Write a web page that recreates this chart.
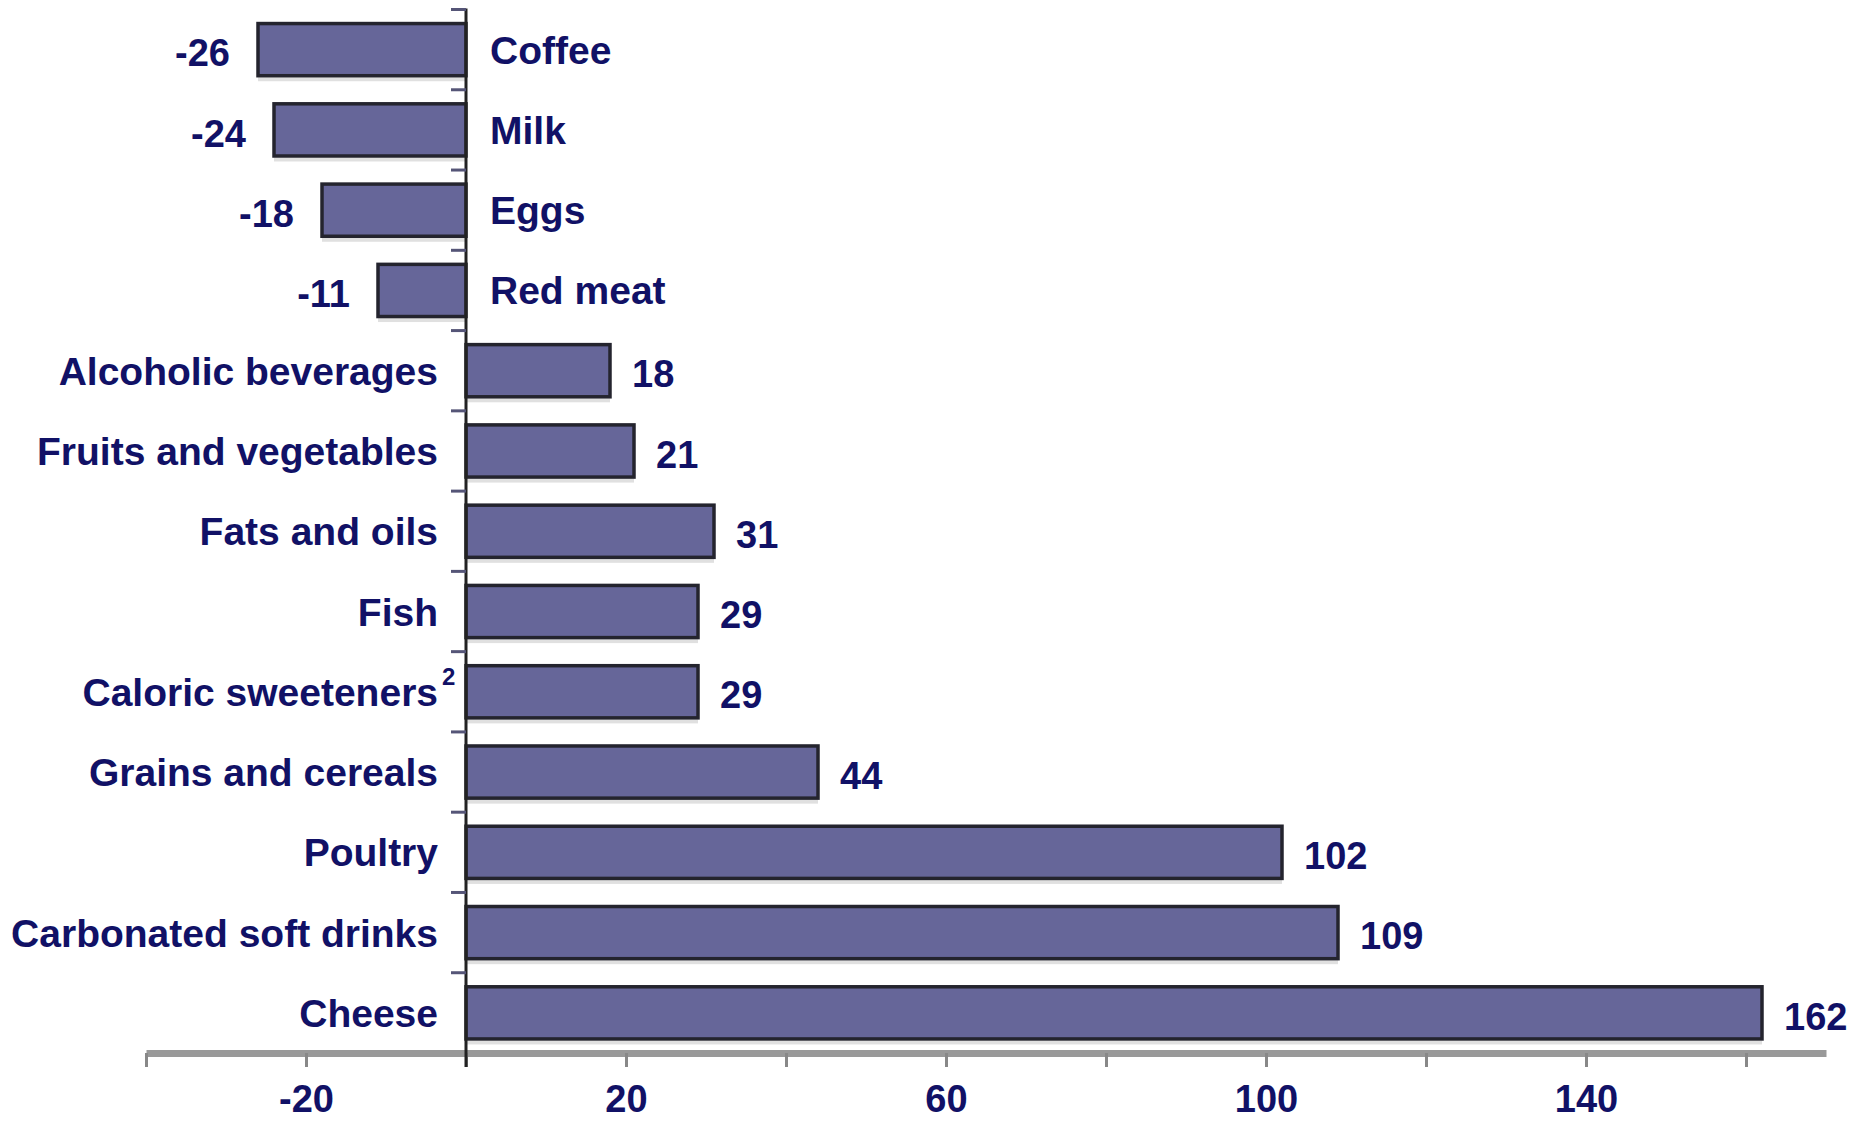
<!DOCTYPE html>
<html>
<head>
<meta charset="utf-8">
<script src="https://cdn.jsdelivr.net/npm/d3@7"></script>
<style>
  body { margin: 0; background: #fff; }
  text {
    font-family: "Liberation Sans", Arial, sans-serif;
    font-weight: bold;
    fill: #111166;
  }
</style>
</head>
<body>
<div id="wrapper"></div>
<script>
// percent change in per capita consumption
const categories = [
  "Coffee",
  "Milk",
  "Eggs",
  "Red meat",
  "Alcoholic beverages",
  "Fruits and vegetables",
  "Fats and oils",
  "Fish",
  "Caloric sweeteners",
  "Grains and cereals",
  "Poultry",
  "Carbonated soft drinks",
  "Cheese",
];
const changes = [-26, -24, -18, -11, 18, 21, 31, 29, 29, 44, 102, 109, 162];
const xTicks = [-40, -20, 0, 20, 40, 60, 80, 100, 120, 140, 160];
const xTickLabels = [-20, 20, 60, 100, 140];
const footnotes = [{ category: "Caloric sweeteners", mark: "2" }];

async function drawBars() {
  // 1. Access data

  const dataset = categories.map((c, i) => ({ category: c, value: changes[i] }));

  const yAccessor = (d) => d.category;
  const xAccessor = (d) => d.value;

  // 2. Create chart dimensions

  let dimensions = {
    width: 1849,
    height: 1123,
    margin: {
      top: 9.5,
      right: 23,
      bottom: 70,
      left: 146,
    },
  };
  dimensions.boundedWidth =
    dimensions.width - dimensions.margin.left - dimensions.margin.right;
  dimensions.boundedHeight =
    dimensions.height - dimensions.margin.top - dimensions.margin.bottom;

  // 3. Draw canvas

  const wrapper = d3
    .select("#wrapper")
    .append("svg")
    .attr("width", dimensions.width)
    .attr("height", dimensions.height);

  const bounds = wrapper
    .append("g")
    .style(
      "transform",
      `translate(${dimensions.margin.left}px, ${dimensions.margin.top}px)`
    );

  // 4. Create scales

  const xScale = d3
    .scaleLinear()
    .domain([-40, 170])
    .range([0, dimensions.boundedWidth]);

  const yScale = d3
    .scaleBand()
    .domain(categories)
    .range([0, dimensions.boundedHeight])
    .paddingInner(0.35)
    .paddingOuter(0.175);

  const x0 = xScale(0);
  const bw = yScale.bandwidth();

  // 5. Draw data

  // light shadow under each bar
  bounds
    .selectAll(".shadow")
    .data(dataset)
    .join("rect")
    .attr("class", "shadow")
    .attr("x", (d) => Math.min(xScale(xAccessor(d)), x0))
    .attr("y", (d) => yScale(yAccessor(d)) + bw + 1.5)
    .attr("width", (d) => Math.abs(xScale(xAccessor(d)) - x0))
    .attr("height", 4)
    .attr("fill", "#e0e0e0");

  bounds
    .selectAll(".bar")
    .data(dataset)
    .join("rect")
    .attr("class", "bar")
    .attr("x", (d) => Math.min(xScale(xAccessor(d)), x0))
    .attr("y", (d) => yScale(yAccessor(d)))
    .attr("width", (d) => Math.abs(xScale(xAccessor(d)) - x0))
    .attr("height", bw)
    .attr("fill", "#666699")
    .attr("stroke", "#24242e")
    .attr("stroke-width", 3.5);

  // 6. Draw peripherals

  const xAxisGenerator = d3
    .axisBottom(xScale)
    .tickValues(xTicks)
    .tickSize(14)
    .tickSizeOuter(0)
    .tickFormat((d) => (xTickLabels.includes(d) ? d : ""));

  const xAxis = bounds
    .append("g")
    .call(xAxisGenerator)
    .style("transform", `translateY(${dimensions.boundedHeight}px)`);

  xAxis.select(".domain").attr("stroke", "#999").attr("stroke-width", 7);
  xAxis.selectAll(".tick line").attr("stroke", "#888").attr("stroke-width", 3);
  xAxis
    .selectAll(".tick text")
    .attr("y", 59)
    .attr("dy", 0)
    .style("font-size", "38px")
    .attr("fill", null);
  xAxis.attr("font-family", null).attr("font-size", null);

  // zero line
  bounds
    .append("line")
    .attr("x1", x0)
    .attr("x2", x0)
    .attr("y1", -1)
    .attr("y2", dimensions.boundedHeight + 14)
    .attr("stroke", "#222")
    .attr("stroke-width", 3);

  // small ticks between the bars
  const step = yScale.step();
  bounds
    .selectAll(".ytick")
    .data(categories)
    .join("line")
    .attr("class", "ytick")
    .attr("x1", x0 - 15)
    .attr("x2", x0)
    .attr("y1", (d) => yScale(d) - (step - bw) / 2)
    .attr("y2", (d) => yScale(d) - (step - bw) / 2)
    .attr("stroke", "#555577")
    .attr("stroke-width", 3);

  // category labels
  bounds
    .selectAll(".cat-label")
    .data(dataset)
    .join("text")
    .attr("class", "cat-label")
    .attr("x", (d) => (xAccessor(d) < 0 ? x0 + 24 : x0 - 28))
    .attr("y", (d) => yScale(yAccessor(d)) + bw / 2)
    .attr("dy", "0.36em")
    .attr("text-anchor", (d) => (xAccessor(d) < 0 ? "start" : "end"))
    .style("font-size", "39px")
    .text(yAccessor);

  // footnote marks
  bounds
    .selectAll(".note")
    .data(footnotes)
    .join("text")
    .attr("class", "note")
    .attr("x", x0 - 24)
    .attr("y", (d) => yScale(d.category) + bw / 2 - 7)
    .style("font-size", "24px")
    .text((d) => d.mark);

  // value labels
  bounds
    .selectAll(".val-label")
    .data(dataset)
    .join("text")
    .attr("class", "val-label")
    .attr("x", (d) =>
      xAccessor(d) < 0 ? xScale(xAccessor(d)) - 28 : xScale(xAccessor(d)) + 22
    )
    .attr("y", (d) => yScale(yAccessor(d)) + bw / 2 + 3)
    .attr("dy", "0.36em")
    .attr("text-anchor", (d) => (xAccessor(d) < 0 ? "end" : "start"))
    .style("font-size", "38px")
    .text(xAccessor);
}
drawBars();
</script>
</body>
</html>
